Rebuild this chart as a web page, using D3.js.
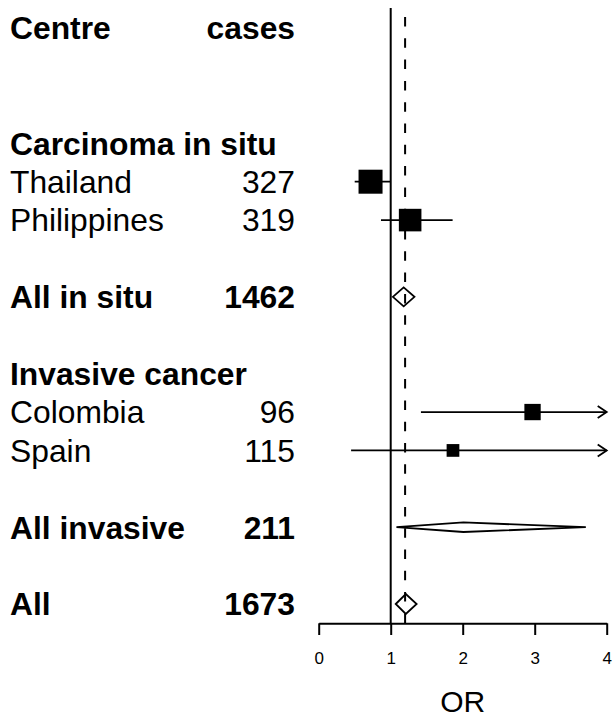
<!DOCTYPE html>
<html>
<head>
<meta charset="utf-8">
<script src="https://cdn.jsdelivr.net/npm/d3@7"></script>
<style>
  html, body { margin: 0; padding: 0; background: #fff; }
  svg { display: block; }
  text { font-family: "Liberation Sans", Arial, Helvetica, sans-serif; fill: #000; }
</style>
</head>
<body>
<svg id="chart" width="613" height="717"></svg>
<script>
// ---- data ----
const rowLabels = ["Centre", "Carcinoma in situ", "Thailand", "Philippines", "All in situ",
                   "Invasive cancer", "Colombia", "Spain", "All invasive", "All"];
const rowCases  = ["cases", "", "327", "319", "1462", "", "96", "115", "211", "1673"];
const rowIndex  = [0, 3, 4, 5, 7, 9, 10, 11, 13, 15];
const rowKind   = ["header", "group", "study", "study", "summary",
                   "group", "study", "study", "summary", "summary"];
const rowOR     = [null, null, 0.72, 1.27, 1.18, null, 2.97, 1.865, 2.01, 1.21];
const rowLower  = [null, null, 0.50, 0.865, 1.03, null, 1.42, 0.45, 1.08, 1.07];
const rowUpper  = [null, null, 1.00, 1.86, 1.33, null, 6.5, 7.8, 3.71, 1.36];
const rowWeight = [null, null, 1.00, 0.94, 0.79, null, 0.68, 0.53, 0.40, 0.83];
const nullValue = 1;
const summaryOR = 1.2;
const xTicks = [0, 1, 2, 3, 4];
const xTitle = "OR";

// ---- layout ----
const svg = d3.select("#chart");
const x = d3.scaleLinear().domain([0, 4]).range([318.7, 606.7]);
const y = d3.scaleLinear().domain([4, 15]).range([181.7, 604]);
const size = d3.scaleLinear().domain([0, 1]).range([0, 24]);
const axisY = 623.3;
const fontSize = 31.8;

const rows = rowLabels.map((l, i) => ({
  label: l, cases: rowCases[i], row: rowIndex[i], kind: rowKind[i],
  or: rowOR[i], lo: rowLower[i], hi: rowUpper[i], w: rowWeight[i]
}));

// text columns
const txt = svg.append("g");
txt.selectAll("text.lab").data(rows).join("text")
  .attr("class", "lab")
  .attr("x", 10)
  .attr("y", d => y(d.row) + 11.3)
  .style("font-size", fontSize + "px")
  .style("font-weight", d => d.kind === "study" ? "normal" : "bold")
  .text(d => d.label);
txt.selectAll("text.cas").data(rows.filter(d => d.cases !== "")).join("text")
  .attr("class", "cas")
  .attr("x", 295)
  .attr("y", d => y(d.row) + 11.3)
  .attr("text-anchor", "end")
  .style("font-size", fontSize + "px")
  .style("font-weight", d => d.kind === "study" ? "normal" : "bold")
  .text(d => d.cases);

// reference lines
svg.append("line")
  .attr("x1", x(nullValue)).attr("x2", x(nullValue))
  .attr("y1", 8).attr("y2", axisY)
  .attr("stroke", "#000").attr("stroke-width", 2);
svg.append("line")
  .attr("x1", x(summaryOR)).attr("x2", x(summaryOR))
  .attr("y1", 17).attr("y2", axisY)
  .attr("stroke", "#000").attr("stroke-width", 2)
  .attr("stroke-dasharray", "9.5,11.8");

// CI lines for studies
const [xmin, xmax] = x.domain();
const studies = rows.filter(d => d.kind === "study");
const g = svg.append("g");
g.selectAll("line.ci").data(studies).join("line")
  .attr("class", "ci")
  .attr("x1", d => x(Math.max(d.lo, xmin)))
  .attr("x2", d => x(Math.min(d.hi, xmax)))
  .attr("y1", d => y(d.row)).attr("y2", d => y(d.row))
  .attr("stroke", "#000").attr("stroke-width", 1.8);
// arrows where clipped
g.selectAll("path.arrow").data(studies.filter(d => d.hi > xmax)).join("path")
  .attr("class", "arrow")
  .attr("d", d => {
    const tx = x(xmax), ty = y(d.row);
    return `M${tx - 9},${ty - 6}L${tx},${ty}L${tx - 9},${ty + 6}`;
  })
  .attr("fill", "none").attr("stroke", "#000").attr("stroke-width", 1.8);
// boxes
g.selectAll("rect.box").data(studies).join("rect")
  .attr("class", "box")
  .attr("x", d => x(d.or) - size(d.w) / 2)
  .attr("y", d => y(d.row) - size(d.w) / 2)
  .attr("width", d => size(d.w))
  .attr("height", d => size(d.w))
  .attr("fill", "#000");
// summary diamonds
g.selectAll("path.diamond").data(rows.filter(d => d.kind === "summary")).join("path")
  .attr("class", "diamond")
  .attr("d", d => {
    const cy = y(d.row), h = size(d.w) / 2;
    return `M${x(d.lo)},${cy}L${x(d.or)},${cy - h}L${x(d.hi)},${cy}L${x(d.or)},${cy + h}Z`;
  })
  .attr("fill", "none").attr("stroke", "#000").attr("stroke-width", 1.8)
  .attr("stroke-linejoin", "miter");

// axis
const axis = svg.append("g")
  .attr("transform", `translate(0,${axisY})`)
  .call(d3.axisBottom(x).tickValues(xTicks).tickFormat(d3.format("d"))
        .tickSize(11.7).tickSizeOuter(0).tickPadding(17));
axis.attr("font-size", null).attr("font-family", null);
axis.select(".domain").attr("stroke", "#000").attr("stroke-width", 2);
axis.selectAll(".tick line").attr("stroke", "#000").attr("stroke-width", 2);
axis.selectAll(".tick text")
  .style("font-family", "'Liberation Sans', Arial, sans-serif")
  .style("font-size", "17px").attr("fill", "#000");

svg.append("text")
  .attr("x", x(2)).attr("y", 711.5)
  .attr("text-anchor", "middle")
  .style("font-size", "30px")
  .text(xTitle);
</script>
</body>
</html>
